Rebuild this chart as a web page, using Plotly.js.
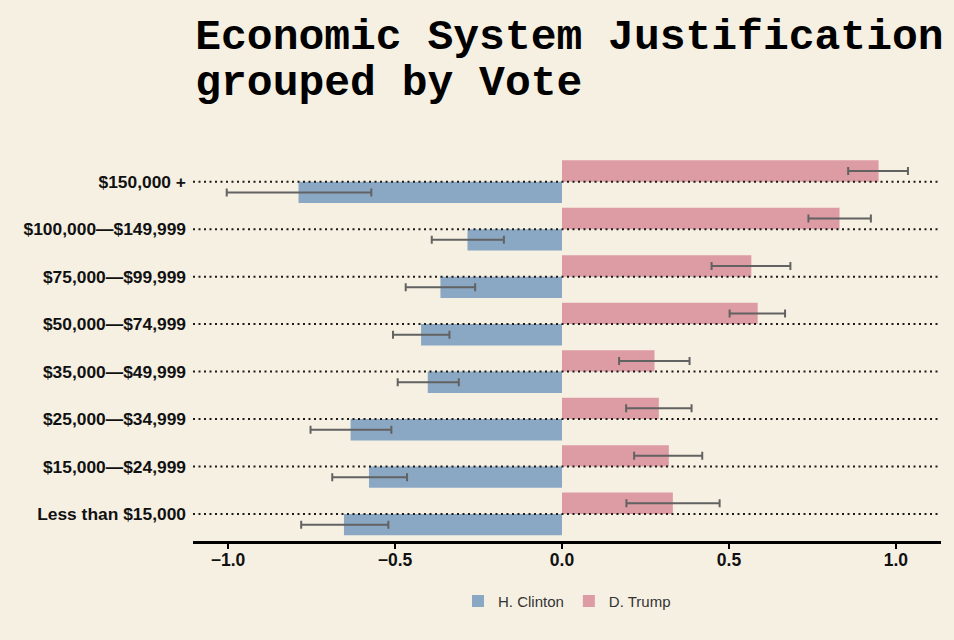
<!DOCTYPE html>
<html>
<head>
<meta charset="utf-8">
<script src="https://cdn.plot.ly/plotly-3.0.1.min.js"></script>
<style>html,body{margin:0;padding:0;background:#f6f0e3;}#chart{width:954px;height:640px;}</style>
</head>
<body>
<div id="chart"></div>
<script>
// Categories, bottom to top
var categories = ["Less than $15,000", "$15,000—$24,999", "$25,000—$34,999", "$35,000—$49,999",
                  "$50,000—$74,999", "$75,000—$99,999", "$100,000—$149,999", "$150,000 +"];
var clintonMean   = [-0.653, -0.578, -0.633, -0.402, -0.422, -0.364, -0.283, -0.789];
var clintonErrLo  = [0.128, 0.110, 0.120, 0.090, 0.084, 0.104, 0.107, 0.215];
var clintonErrHi  = [0.133, 0.114, 0.122, 0.093, 0.085, 0.104, 0.109, 0.218];
var trumpMean     = [0.332, 0.320, 0.290, 0.277, 0.586, 0.567, 0.831, 0.948];
var trumpErrLo    = [0.139, 0.104, 0.098, 0.106, 0.084, 0.119, 0.093, 0.091];
var trumpErrHi    = [0.140, 0.100, 0.098, 0.105, 0.082, 0.117, 0.094, 0.088];
var seriesNames   = ["H. Clinton", "D. Trump"];
var xTickVals     = [-1.0, -0.5, 0.0, 0.5, 1.0];

var bg = '#f6f0e3';
var errStyle = {color: '#626262', thickness: 2, width: 4};

var traces = [
  {type: 'bar', orientation: 'h', name: seriesNames[0], y: categories, x: clintonMean,
   marker: {color: '#8aa8c4'},
   error_x: Object.assign({type: 'data', symmetric: false, array: clintonErrHi, arrayminus: clintonErrLo}, errStyle),
   hoverinfo: 'x+y'},
  {type: 'bar', orientation: 'h', name: seriesNames[1], y: categories, x: trumpMean,
   marker: {color: '#dd9ba4'},
   error_x: Object.assign({type: 'data', symmetric: false, array: trumpErrHi, arrayminus: trumpErrLo}, errStyle),
   hoverinfo: 'x+y'}
];

var shapes = categories.map(function (c) {
  return {type: 'line', xref: 'paper', x0: 0, x1: 1, yref: 'y', y0: c, y1: c, layer: 'above',
          line: {color: '#1a1a1a', width: 2, dash: '2px,3.5px'}};
});

var layout = {
  width: 954, height: 640,
  paper_bgcolor: bg, plot_bgcolor: bg,
  margin: {l: 193, r: 13, t: 158, b: 99},
  barmode: 'group', bargap: 0.1, bargroupgap: 0,
  font: {family: 'Liberation Sans, Arial, sans-serif', color: '#111'},
  title: {
    text: '<span style="font-size:43px">Economic System Justification</span><br><span style="font-size:43px">grouped by Vote</span>',
    font: {family: 'Liberation Mono, Courier New, monospace', size: 36, color: '#000', weight: 'bold'},
    xref: 'paper', x: 0.003, xanchor: 'left',
    yref: 'container', y: 0.924, yanchor: 'top'
  },
  xaxis: {
    range: [-1.105, 1.135], tickvals: xTickVals, tickformat: '.1f',
    showgrid: false, zeroline: false,
    showline: true, linecolor: '#000', linewidth: 2.5,
    ticks: 'outside', ticklen: 5, tickwidth: 2, tickcolor: '#000',
    ticklabelstandoff: -4,
    tickfont: {size: 17.5, weight: 'bold', color: '#111'}
  },
  yaxis: {
    type: 'category', categoryorder: 'array', categoryarray: categories,
    range: [-0.57, 7.5],
    showgrid: false, zeroline: false, showline: false, ticks: '',
    ticklabelstandoff: 6,
    tickfont: {size: 17.4, weight: 'bold', color: '#111'}
  },
  legend: {
    orientation: 'h', x: 0.5, xanchor: 'center', y: -0.157, yanchor: 'middle',
    font: {size: 15, color: '#333'}, bgcolor: 'rgba(0,0,0,0)', traceorder: 'normal'
  },
  shapes: shapes,
  showlegend: true
};

Plotly.newPlot('chart', traces, layout, {displayModeBar: false, staticPlot: true});
</script>
</body>
</html>
